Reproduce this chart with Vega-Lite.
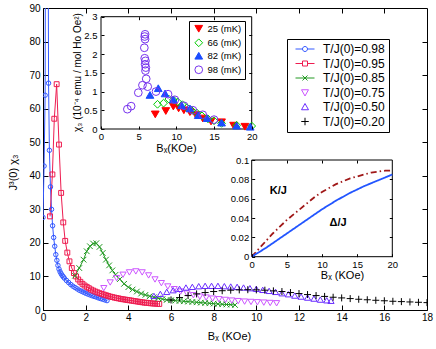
{
 "$schema": "https://vega.github.io/schema/vega-lite/v6.json",
 "width": 384, "height": 302,
 "autosize": "none",
 "padding": {"left": 43, "top": 8, "right": 9, "bottom": 39},
 "config": {
  "font": "Liberation Sans",
  "view": {"stroke": "black", "strokeWidth": 1},
  "axis": {"grid": false, "domain": false, "tickColor": "black", "labelColor": "black", "labelFontSize": 10, "titleFontSize": 11, "titleFontWeight": "normal", "titleColor": "black", "labelFlush": false, "labelOverlap": false, "tickSize": -5, "titleBaseline": "middle", "titleAlign": "center"},
  "legend": {"labelColor": "black", "labelFont": "Liberation Sans"}
 },
 "datasets": {
  "main": [
   {"s":"T/J(0)=0.98","B":0,"c":27.6},{"s":"T/J(0)=0.98","B":0.05,"c":42.9},{"s":"T/J(0)=0.98","B":0.1,"c":64},{"s":"T/J(0)=0.98","B":0.17,"c":300},{"s":"T/J(0)=0.98","B":0.26,"c":67.6},{"s":"T/J(0)=0.98","B":0.3,"c":47.6},{"s":"T/J(0)=0.98","B":0.35,"c":36.7},{"s":"T/J(0)=0.98","B":0.4,"c":30},{"s":"T/J(0)=0.98","B":0.45,"c":25.1},{"s":"T/J(0)=0.98","B":0.5,"c":21.6},{"s":"T/J(0)=0.98","B":0.55,"c":19},{"s":"T/J(0)=0.98","B":0.6,"c":16.5},{"s":"T/J(0)=0.98","B":0.65,"c":14.8},{"s":"T/J(0)=0.98","B":0.7,"c":13.3},{"s":"T/J(0)=0.98","B":0.75,"c":12.2},{"s":"T/J(0)=0.98","B":0.8,"c":11.4},{"s":"T/J(0)=0.98","B":0.85,"c":10.8},{"s":"T/J(0)=0.98","B":0.9,"c":10.3},{"s":"T/J(0)=0.98","B":0.95,"c":9.9},{"s":"T/J(0)=0.98","B":1.0,"c":9.5},{"s":"T/J(0)=0.98","B":1.1,"c":8.8},{"s":"T/J(0)=0.98","B":1.2,"c":8.2},{"s":"T/J(0)=0.98","B":1.3,"c":7.6},{"s":"T/J(0)=0.98","B":1.4,"c":7.1},{"s":"T/J(0)=0.98","B":1.5,"c":6.7},{"s":"T/J(0)=0.98","B":1.6,"c":6.3},{"s":"T/J(0)=0.98","B":1.7,"c":5.9},{"s":"T/J(0)=0.98","B":1.8,"c":5.6},{"s":"T/J(0)=0.98","B":1.9,"c":5.3},{"s":"T/J(0)=0.98","B":2.0,"c":5.0},{"s":"T/J(0)=0.98","B":2.1,"c":4.75},{"s":"T/J(0)=0.98","B":2.2,"c":4.5},{"s":"T/J(0)=0.98","B":2.3,"c":4.25},{"s":"T/J(0)=0.98","B":2.4,"c":4.05},{"s":"T/J(0)=0.98","B":2.5,"c":3.85},{"s":"T/J(0)=0.98","B":2.6,"c":3.6},{"s":"T/J(0)=0.98","B":2.7,"c":3.4},{"s":"T/J(0)=0.98","B":2.8,"c":3.2},{"s":"T/J(0)=0.98","B":2.9,"c":3.0},{"s":"T/J(0)=0.98","B":3.0,"c":2.8},
   {"s":"T/J(0)=0.95","B":0.33,"c":27.9},{"s":"T/J(0)=0.95","B":0.44,"c":40.4},{"s":"T/J(0)=0.95","B":0.53,"c":57},{"s":"T/J(0)=0.95","B":0.64,"c":67.3},{"s":"T/J(0)=0.95","B":0.75,"c":49.3},{"s":"T/J(0)=0.95","B":0.85,"c":34.9},{"s":"T/J(0)=0.95","B":0.95,"c":26.1},{"s":"T/J(0)=0.95","B":1.04,"c":20.6},{"s":"T/J(0)=0.95","B":1.14,"c":17.1},{"s":"T/J(0)=0.95","B":1.24,"c":14.5},{"s":"T/J(0)=0.95","B":1.35,"c":12.5},{"s":"T/J(0)=0.95","B":1.45,"c":11},{"s":"T/J(0)=0.95","B":1.55,"c":10},{"s":"T/J(0)=0.95","B":1.65,"c":9.1},{"s":"T/J(0)=0.95","B":1.75,"c":8.4},{"s":"T/J(0)=0.95","B":1.85,"c":7.8},{"s":"T/J(0)=0.95","B":1.95,"c":7.3},{"s":"T/J(0)=0.95","B":2.05,"c":6.9},{"s":"T/J(0)=0.95","B":2.15,"c":6.5},{"s":"T/J(0)=0.95","B":2.25,"c":6.1},{"s":"T/J(0)=0.95","B":2.35,"c":5.8},{"s":"T/J(0)=0.95","B":2.45,"c":5.5},{"s":"T/J(0)=0.95","B":2.55,"c":5.25},{"s":"T/J(0)=0.95","B":2.65,"c":5.0},{"s":"T/J(0)=0.95","B":2.75,"c":4.8},{"s":"T/J(0)=0.95","B":2.85,"c":4.6},{"s":"T/J(0)=0.95","B":2.95,"c":4.4},{"s":"T/J(0)=0.95","B":3.05,"c":4.2},{"s":"T/J(0)=0.95","B":3.15,"c":4.0},{"s":"T/J(0)=0.95","B":3.25,"c":3.85},{"s":"T/J(0)=0.95","B":3.35,"c":3.7},{"s":"T/J(0)=0.95","B":3.45,"c":3.55},{"s":"T/J(0)=0.95","B":3.55,"c":3.45},{"s":"T/J(0)=0.95","B":3.65,"c":3.3},{"s":"T/J(0)=0.95","B":3.75,"c":3.2},{"s":"T/J(0)=0.95","B":3.85,"c":3.1},{"s":"T/J(0)=0.95","B":3.95,"c":3.0},{"s":"T/J(0)=0.95","B":4.05,"c":2.9},{"s":"T/J(0)=0.95","B":4.15,"c":2.8},{"s":"T/J(0)=0.95","B":4.25,"c":2.7},{"s":"T/J(0)=0.95","B":4.35,"c":2.6},{"s":"T/J(0)=0.95","B":4.45,"c":2.5},{"s":"T/J(0)=0.95","B":4.55,"c":2.4},{"s":"T/J(0)=0.95","B":4.65,"c":2.3},{"s":"T/J(0)=0.95","B":4.75,"c":2.2},{"s":"T/J(0)=0.95","B":4.85,"c":2.15},{"s":"T/J(0)=0.95","B":4.95,"c":2.1},{"s":"T/J(0)=0.95","B":5.05,"c":2.0},{"s":"T/J(0)=0.95","B":5.15,"c":1.95},{"s":"T/J(0)=0.95","B":5.25,"c":1.9},{"s":"T/J(0)=0.95","B":5.35,"c":1.85},{"s":"T/J(0)=0.95","B":5.45,"c":1.8},
   {"s":"T/J(0)=0.85","B":1.5,"c":10.2},{"s":"T/J(0)=0.85","B":1.7,"c":12.5},{"s":"T/J(0)=0.85","B":1.9,"c":15},{"s":"T/J(0)=0.85","B":2.05,"c":17.5},{"s":"T/J(0)=0.85","B":2.2,"c":19},{"s":"T/J(0)=0.85","B":2.35,"c":19.8},{"s":"T/J(0)=0.85","B":2.5,"c":19.9},{"s":"T/J(0)=0.85","B":2.65,"c":18.8},{"s":"T/J(0)=0.85","B":2.8,"c":17},{"s":"T/J(0)=0.85","B":2.95,"c":15},{"s":"T/J(0)=0.85","B":3.1,"c":13.3},{"s":"T/J(0)=0.85","B":3.25,"c":11.8},{"s":"T/J(0)=0.85","B":3.4,"c":10.5},{"s":"T/J(0)=0.85","B":3.6,"c":9.2},{"s":"T/J(0)=0.85","B":3.8,"c":7.8},{"s":"T/J(0)=0.85","B":4.0,"c":6.8},{"s":"T/J(0)=0.85","B":4.2,"c":6.1},{"s":"T/J(0)=0.85","B":4.4,"c":5.5},{"s":"T/J(0)=0.85","B":4.6,"c":4.9},{"s":"T/J(0)=0.85","B":4.8,"c":4.5},{"s":"T/J(0)=0.85","B":5.0,"c":4.1},{"s":"T/J(0)=0.85","B":5.2,"c":3.8},{"s":"T/J(0)=0.85","B":5.4,"c":3.5},{"s":"T/J(0)=0.85","B":5.6,"c":3.25},{"s":"T/J(0)=0.85","B":5.8,"c":3.0},{"s":"T/J(0)=0.85","B":6.0,"c":2.9},{"s":"T/J(0)=0.85","B":6.2,"c":2.8},{"s":"T/J(0)=0.85","B":6.4,"c":2.7},{"s":"T/J(0)=0.85","B":6.6,"c":2.6},{"s":"T/J(0)=0.85","B":6.8,"c":2.5},{"s":"T/J(0)=0.85","B":7.0,"c":2.4},{"s":"T/J(0)=0.85","B":7.2,"c":2.3},{"s":"T/J(0)=0.85","B":7.4,"c":2.2},{"s":"T/J(0)=0.85","B":7.6,"c":2.1},{"s":"T/J(0)=0.85","B":7.8,"c":2.0},{"s":"T/J(0)=0.85","B":8.0,"c":1.9},{"s":"T/J(0)=0.85","B":8.2,"c":1.8},{"s":"T/J(0)=0.85","B":8.4,"c":1.7},{"s":"T/J(0)=0.85","B":8.6,"c":1.65},{"s":"T/J(0)=0.85","B":8.8,"c":1.6},{"s":"T/J(0)=0.85","B":9.0,"c":1.5},
   {"s":"T/J(0)=0.75","B":2.85,"c":6.5},{"s":"T/J(0)=0.75","B":3.15,"c":8.2},{"s":"T/J(0)=0.75","B":3.45,"c":9.5},{"s":"T/J(0)=0.75","B":3.75,"c":10.5},{"s":"T/J(0)=0.75","B":4.05,"c":11.2},{"s":"T/J(0)=0.75","B":4.35,"c":11.5},{"s":"T/J(0)=0.75","B":4.65,"c":11.2},{"s":"T/J(0)=0.75","B":4.95,"c":10.3},{"s":"T/J(0)=0.75","B":5.25,"c":9.1},{"s":"T/J(0)=0.75","B":5.55,"c":8.0},{"s":"T/J(0)=0.75","B":5.85,"c":7.0},{"s":"T/J(0)=0.75","B":6.15,"c":6.2},{"s":"T/J(0)=0.75","B":6.45,"c":5.5},{"s":"T/J(0)=0.75","B":6.75,"c":4.9},{"s":"T/J(0)=0.75","B":7.05,"c":4.4},{"s":"T/J(0)=0.75","B":7.35,"c":4.0},{"s":"T/J(0)=0.75","B":7.65,"c":3.7},{"s":"T/J(0)=0.75","B":7.95,"c":3.4},{"s":"T/J(0)=0.75","B":8.25,"c":3.2},{"s":"T/J(0)=0.75","B":8.55,"c":3.0},{"s":"T/J(0)=0.75","B":8.85,"c":2.8},{"s":"T/J(0)=0.75","B":9.15,"c":2.65},{"s":"T/J(0)=0.75","B":9.45,"c":2.5},{"s":"T/J(0)=0.75","B":9.75,"c":2.4},{"s":"T/J(0)=0.75","B":10.05,"c":2.3},{"s":"T/J(0)=0.75","B":10.35,"c":2.2},{"s":"T/J(0)=0.75","B":10.65,"c":2.1},{"s":"T/J(0)=0.75","B":10.95,"c":2.0},
   {"s":"T/J(0)=0.50","B":5.2,"c":4.2},{"s":"T/J(0)=0.50","B":5.5,"c":4.8},{"s":"T/J(0)=0.50","B":5.8,"c":5.4},{"s":"T/J(0)=0.50","B":6.1,"c":5.9},{"s":"T/J(0)=0.50","B":6.4,"c":6.3},{"s":"T/J(0)=0.50","B":6.7,"c":6.7},{"s":"T/J(0)=0.50","B":7.0,"c":6.9},{"s":"T/J(0)=0.50","B":7.3,"c":7.1},{"s":"T/J(0)=0.50","B":7.6,"c":7.2},{"s":"T/J(0)=0.50","B":7.9,"c":7.2},{"s":"T/J(0)=0.50","B":8.2,"c":7.2},{"s":"T/J(0)=0.50","B":8.5,"c":7.1},{"s":"T/J(0)=0.50","B":8.8,"c":7.0},{"s":"T/J(0)=0.50","B":9.1,"c":6.9},{"s":"T/J(0)=0.50","B":9.4,"c":6.7},{"s":"T/J(0)=0.50","B":9.7,"c":6.5},{"s":"T/J(0)=0.50","B":10.0,"c":6.3},{"s":"T/J(0)=0.50","B":10.3,"c":6.0},{"s":"T/J(0)=0.50","B":10.6,"c":5.7},{"s":"T/J(0)=0.50","B":10.9,"c":5.4},{"s":"T/J(0)=0.50","B":11.2,"c":5.0},{"s":"T/J(0)=0.50","B":11.5,"c":4.7},{"s":"T/J(0)=0.50","B":11.8,"c":4.3},{"s":"T/J(0)=0.50","B":12.1,"c":4.0},{"s":"T/J(0)=0.50","B":12.4,"c":3.7},{"s":"T/J(0)=0.50","B":12.7,"c":3.4},{"s":"T/J(0)=0.50","B":13.0,"c":3.1},{"s":"T/J(0)=0.50","B":13.3,"c":2.9},{"s":"T/J(0)=0.50","B":13.5,"c":2.75},
   {"s":"T/J(0)=0.20","B":6.0,"c":3.0},{"s":"T/J(0)=0.20","B":6.4,"c":3.7},{"s":"T/J(0)=0.20","B":6.8,"c":4.3},{"s":"T/J(0)=0.20","B":7.2,"c":4.8},{"s":"T/J(0)=0.20","B":7.6,"c":5.2},{"s":"T/J(0)=0.20","B":8.0,"c":5.5},{"s":"T/J(0)=0.20","B":8.4,"c":5.75},{"s":"T/J(0)=0.20","B":8.8,"c":5.9},{"s":"T/J(0)=0.20","B":9.2,"c":6.0},{"s":"T/J(0)=0.20","B":9.6,"c":6.05},{"s":"T/J(0)=0.20","B":10.0,"c":6.0},{"s":"T/J(0)=0.20","B":10.4,"c":5.9},{"s":"T/J(0)=0.20","B":10.8,"c":5.7},{"s":"T/J(0)=0.20","B":11.2,"c":5.5},{"s":"T/J(0)=0.20","B":11.6,"c":5.2},{"s":"T/J(0)=0.20","B":12.0,"c":4.9},{"s":"T/J(0)=0.20","B":12.4,"c":4.6},{"s":"T/J(0)=0.20","B":12.8,"c":4.3},{"s":"T/J(0)=0.20","B":13.2,"c":4.05},{"s":"T/J(0)=0.20","B":13.6,"c":3.8},{"s":"T/J(0)=0.20","B":14.0,"c":3.6},{"s":"T/J(0)=0.20","B":14.4,"c":3.4},{"s":"T/J(0)=0.20","B":14.8,"c":3.2},{"s":"T/J(0)=0.20","B":15.2,"c":3.05},{"s":"T/J(0)=0.20","B":15.6,"c":2.9},{"s":"T/J(0)=0.20","B":16.0,"c":2.75},{"s":"T/J(0)=0.20","B":16.4,"c":2.6},{"s":"T/J(0)=0.20","B":16.8,"c":2.5},{"s":"T/J(0)=0.20","B":17.2,"c":2.4},{"s":"T/J(0)=0.20","B":17.6,"c":2.3},{"s":"T/J(0)=0.20","B":18.0,"c":2.2}
  ],
  "inset1": [
   {"t":"25 (mK)","B":7.2,"v":0.39},{"t":"25 (mK)","B":8.6,"v":0.48},{"t":"25 (mK)","B":9.6,"v":0.6},{"t":"25 (mK)","B":10.3,"v":0.55},{"t":"25 (mK)","B":11.0,"v":0.5},{"t":"25 (mK)","B":11.8,"v":0.45},{"t":"25 (mK)","B":12.6,"v":0.37},{"t":"25 (mK)","B":13.5,"v":0.28},{"t":"25 (mK)","B":14.6,"v":0.2},{"t":"25 (mK)","B":16.0,"v":0.18},{"t":"25 (mK)","B":17.6,"v":0.09},{"t":"25 (mK)","B":19.1,"v":0.06},
   {"t":"66 (mK)","B":7.5,"v":0.66},{"t":"66 (mK)","B":8.3,"v":0.69},{"t":"66 (mK)","B":9.0,"v":0.8},{"t":"66 (mK)","B":9.6,"v":0.78},{"t":"66 (mK)","B":10.2,"v":0.72},{"t":"66 (mK)","B":10.8,"v":0.65},{"t":"66 (mK)","B":11.4,"v":0.57},{"t":"66 (mK)","B":12.0,"v":0.5},{"t":"66 (mK)","B":12.7,"v":0.43},{"t":"66 (mK)","B":13.4,"v":0.35},{"t":"66 (mK)","B":14.2,"v":0.27},{"t":"66 (mK)","B":15.0,"v":0.22},{"t":"66 (mK)","B":16.0,"v":0.15},{"t":"66 (mK)","B":18.0,"v":0.1},{"t":"66 (mK)","B":20.0,"v":0.08},
   {"t":"82 (mK)","B":6.5,"v":0.91},{"t":"82 (mK)","B":7.6,"v":1.09},{"t":"82 (mK)","B":8.5,"v":0.95},{"t":"82 (mK)","B":9.6,"v":0.79},{"t":"82 (mK)","B":10.7,"v":0.64},{"t":"82 (mK)","B":11.8,"v":0.55},{"t":"82 (mK)","B":12.9,"v":0.37},{"t":"82 (mK)","B":14.1,"v":0.29},{"t":"82 (mK)","B":16.0,"v":0.17},{"t":"82 (mK)","B":18.0,"v":0.09},{"t":"82 (mK)","B":19.8,"v":0.06},
   {"t":"98 (mK)","B":3.5,"v":0.53},{"t":"98 (mK)","B":4.0,"v":0.61},{"t":"98 (mK)","B":4.95,"v":0.97},{"t":"98 (mK)","B":5.5,"v":1.17},{"t":"98 (mK)","B":5.85,"v":2.53},{"t":"98 (mK)","B":5.8,"v":2.47},{"t":"98 (mK)","B":5.85,"v":2.4},{"t":"98 (mK)","B":5.75,"v":2.17},{"t":"98 (mK)","B":5.8,"v":1.89},{"t":"98 (mK)","B":5.9,"v":1.82},{"t":"98 (mK)","B":5.85,"v":1.73},{"t":"98 (mK)","B":5.95,"v":1.64},{"t":"98 (mK)","B":5.9,"v":1.56},{"t":"98 (mK)","B":6.0,"v":1.34},{"t":"98 (mK)","B":6.2,"v":1.13},{"t":"98 (mK)","B":7.3,"v":1.0},{"t":"98 (mK)","B":8.9,"v":0.93},{"t":"98 (mK)","B":9.8,"v":0.78},{"t":"98 (mK)","B":11.0,"v":0.62},{"t":"98 (mK)","B":12.2,"v":0.5},{"t":"98 (mK)","B":13.5,"v":0.38},{"t":"98 (mK)","B":15.0,"v":0.25}
  ],
  "inset2": [
   {"q":"K/J","B":0,"v":0},{"q":"K/J","B":1,"v":0.008},{"q":"K/J","B":2,"v":0.016},{"q":"K/J","B":3,"v":0.024},{"q":"K/J","B":4,"v":0.031},{"q":"K/J","B":5,"v":0.038},{"q":"K/J","B":6,"v":0.044},{"q":"K/J","B":7,"v":0.05},{"q":"K/J","B":8,"v":0.056},{"q":"K/J","B":9,"v":0.062},{"q":"K/J","B":10,"v":0.067},{"q":"K/J","B":11,"v":0.071},{"q":"K/J","B":12,"v":0.075},{"q":"K/J","B":13,"v":0.078},{"q":"K/J","B":14,"v":0.081},{"q":"K/J","B":15,"v":0.083},{"q":"K/J","B":16,"v":0.085},{"q":"K/J","B":17,"v":0.087},{"q":"K/J","B":18,"v":0.088},{"q":"K/J","B":19,"v":0.089},{"q":"K/J","B":20,"v":0.089},
   {"q":"Δ/J","B":0,"v":0},{"q":"Δ/J","B":2,"v":0.009},{"q":"Δ/J","B":4,"v":0.019},{"q":"Δ/J","B":6,"v":0.029},{"q":"Δ/J","B":8,"v":0.039},{"q":"Δ/J","B":10,"v":0.049},{"q":"Δ/J","B":12,"v":0.058},{"q":"Δ/J","B":14,"v":0.066},{"q":"Δ/J","B":16,"v":0.073},{"q":"Δ/J","B":18,"v":0.079},{"q":"Δ/J","B":20,"v":0.085}
  ],
  "labels2": [{"B":3.8,"v":0.068,"txt":"K/J"},{"B":12.3,"v":0.0347,"txt":"Δ/J"}],
  "frame1": [{"x0":0,"x1":20,"y0":0,"y1":3}],
  "frame2": [{"x0":0,"x1":20,"y0":0,"y1":0.1}],
  "ghost": [{"a":0,"b":0}]
 },
 "layer": [
  {
   "data": {"name": "main"},
   "encoding": {
    "x": {"field": "B", "type": "quantitative", "scale": {"domain": [0, 18], "nice": false, "zero": false}, "axis": {"values": [0,2,4,6,8,10,12,14,16,18], "labelPadding": 7, "title": "Bₓ (KOe)", "titleX": 186, "titleY": 26}},
    "y": {"field": "c", "type": "quantitative", "scale": {"domain": [0, 90], "nice": false}, "axis": {"values": [0,10,20,30,40,50,60,70,80,90], "labelPadding": 8, "title": "J³(0) χ₃", "titleX": -30, "titleY": 164}}
   },
   "layer": [
    {"transform": [{"filter": {"field": "s", "oneOf": ["T/J(0)=0.98", "T/J(0)=0.95", "T/J(0)=0.85"]}}],
     "mark": {"type": "line", "strokeWidth": 1, "clip": true},
     "encoding": {"color": {"field": "s", "type": "nominal", "scale": {"domain": ["T/J(0)=0.98","T/J(0)=0.95","T/J(0)=0.85","T/J(0)=0.75","T/J(0)=0.50","T/J(0)=0.20"], "range": ["#3358ff","#ee1c50","#229922","#cc55ff","#6a2cff","#000000"]}, "legend": null}}},
    {"mark": {"type": "point", "filled": false, "strokeWidth": 1, "clip": true, "opacity": 1},
     "encoding": {
      "color": {"field": "s", "type": "nominal", "scale": {"domain": ["T/J(0)=0.98","T/J(0)=0.95","T/J(0)=0.85","T/J(0)=0.75","T/J(0)=0.50","T/J(0)=0.20"], "range": ["#3358ff","#ee1c50","#229922","#cc55ff","#6a2cff","#000000"]}, "legend": null},
      "shape": {"field": "s", "type": "nominal", "scale": {"domain": ["T/J(0)=0.98","T/J(0)=0.95","T/J(0)=0.85","T/J(0)=0.75","T/J(0)=0.50","T/J(0)=0.20"], "range": ["circle","square","M-1,-1L1,1M1,-1L-1,1","triangle-down","triangle-up","M-1,0L1,0M0,-1L0,1"]}, "legend": null},
      "size": {"field": "s", "type": "nominal", "scale": {"type": "ordinal", "domain": ["T/J(0)=0.98","T/J(0)=0.95","T/J(0)=0.85","T/J(0)=0.75","T/J(0)=0.50","T/J(0)=0.20"], "range": [20, 24, 32, 38, 38, 49]}, "legend": null}
     }}
   ]
  },
  {
   "data": {"name": "main"},
   "mark": {"type": "point", "filled": false, "strokeWidth": 1, "clip": true, "opacity": 1, "size": 0},
   "encoding": {
    "x": {"field": "B", "type": "quantitative", "scale": {"domain": [0, 18], "nice": false, "zero": false}, "axis": null},
    "y": {"field": "c", "type": "quantitative", "scale": {"domain": [0, 90], "nice": false}, "axis": null},
    "color": {"field": "s", "type": "nominal", "scale": {"domain": ["T/J(0)=0.98","T/J(0)=0.95","T/J(0)=0.85","T/J(0)=0.75","T/J(0)=0.50","T/J(0)=0.20"], "range": ["#3358ff","#ee1c50","#229922","#cc55ff","#6a2cff","#000000"]},
     "legend": {"orient": "none", "legendX": 244, "legendY": 31, "title": null, "labelFontSize": 12, "symbolSize": 100, "symbolStrokeWidth": 1, "symbolFillColor": "transparent", "symbolOffset": 8, "labelOffset": 12, "padding": 4, "rowPadding": 2.5, "strokeColor": "black", "fillColor": "white"}},
    "shape": {"field": "s", "type": "nominal", "scale": {"domain": ["T/J(0)=0.98","T/J(0)=0.95","T/J(0)=0.85","T/J(0)=0.75","T/J(0)=0.50","T/J(0)=0.20"], "range": ["M-1.9,0L-0.5,0M0.5,0L1.9,0M-0.5,0A0.5,0.5,0,1,0,0.5,0A0.5,0.5,0,1,0,-0.5,0", "M-1.9,0L-0.5,0M0.5,0L1.9,0M-0.5,-0.5L0.5,-0.5L0.5,0.5L-0.5,0.5Z", "M-1.9,0L1.9,0M-0.5,-0.5L0.5,0.5M0.5,-0.5L-0.5,0.5", "M-0.7,-0.55L0.7,-0.55L0,0.7Z", "M-0.7,0.55L0.7,0.55L0,-0.7Z", "M-0.75,0L0.75,0M0,-0.75L0,0.75"]},
     "legend": {"orient": "none", "legendX": 244, "legendY": 31, "title": null, "labelFontSize": 12, "symbolSize": 100, "symbolStrokeWidth": 1, "symbolFillColor": "transparent", "symbolOffset": 8, "labelOffset": 12, "padding": 4, "rowPadding": 2.5, "strokeColor": "black", "fillColor": "white"}}
   }
  },
  {
   "data": {"name": "ghost"},
   "mark": {"type": "point", "opacity": 0},
   "encoding": {
    "x": {"field": "a", "type": "quantitative", "scale": {"domain": [0, 18], "nice": false, "zero": false}, "axis": {"orient": "top", "values": [2,4,6,8,10,12,14,16], "labels": false, "title": null}},
    "y": {"field": "b", "type": "quantitative", "scale": {"domain": [0, 90], "nice": false}, "axis": {"orient": "right", "values": [10,20,30,40,50,60,70,80], "labels": false, "title": null}}
   }
  },
  {
   "layer": [
    {"data": {"name": "frame1"}, "mark": {"type": "rect", "fill": "white", "stroke": "black", "strokeWidth": 1},
     "encoding": {
      "x": {"field": "x0", "type": "quantitative", "scale": {"domain": [0, 20], "range": [58, 208.7], "nice": false, "zero": false}, "axis": {"offset": -181, "zindex": 1, "values": [0,5,10,15,20], "tickSize": -3, "labelPadding": 5, "labelFontSize": 9.5, "title": "Bₓ(KOe)", "titleFontSize": 11, "titleX": 133, "titleY": 19}},
      "x2": {"field": "x1"},
      "y": {"field": "y0", "type": "quantitative", "scale": {"domain": [0, 3], "range": [121, 8.7], "nice": false}, "axis": {"offset": -58, "zindex": 1, "values": [0,0.5,1,1.5,2,2.5,3], "labelExpr": "datum.value + ''", "tickSize": -3, "labelPadding": 7, "labelFontSize": 9.5, "title": "χ₃ (10⁻⁴ emu / mol Ho Oe²)", "titleFontSize": 10, "titleX": -24, "titleY": 64}},
      "y2": {"field": "y1"}
     }},
    {"data": {"name": "inset1"}, "mark": {"type": "point", "strokeWidth": 1, "opacity": 1, "size": 60},
     "encoding": {
      "x": {"field": "B", "type": "quantitative", "scale": {"domain": [0, 20], "range": [58, 208.7], "nice": false, "zero": false}},
      "y": {"field": "v", "type": "quantitative", "scale": {"domain": [0, 3], "range": [121, 8.7], "nice": false}},
      "fill": {"field": "t", "type": "nominal", "scale": {"domain": ["25 (mK)","66 (mK)","82 (mK)","98 (mK)"], "range": ["#ff0000","transparent","#1a4cff","transparent"]},
       "legend": {"orient": "none", "legendX": 146, "legendY": 13, "title": null, "labelFontSize": 9.5, "symbolSize": 60, "symbolStrokeWidth": 1, "padding": 3, "rowPadding": 1, "labelOffset": 4, "symbolOffset": 2, "strokeColor": "black", "fillColor": "white"}},
      "stroke": {"field": "t", "type": "nominal", "scale": {"domain": ["25 (mK)","66 (mK)","82 (mK)","98 (mK)"], "range": ["#ff0000","#00cc00","#1a4cff","#7733ee"]},
       "legend": {"orient": "none", "legendX": 146, "legendY": 13, "title": null, "labelFontSize": 9.5, "symbolSize": 60, "symbolStrokeWidth": 1, "padding": 3, "rowPadding": 1, "labelOffset": 4, "symbolOffset": 2, "strokeColor": "black", "fillColor": "white"}},
      "shape": {"field": "t", "type": "nominal", "scale": {"domain": ["25 (mK)","66 (mK)","82 (mK)","98 (mK)"], "range": ["triangle-down","diamond","triangle-up","circle"]},
       "legend": {"orient": "none", "legendX": 146, "legendY": 13, "title": null, "labelFontSize": 9.5, "symbolSize": 60, "symbolStrokeWidth": 1, "padding": 3, "rowPadding": 1, "labelOffset": 4, "symbolOffset": 2, "strokeColor": "black", "fillColor": "white"}}
     }}
   ]
  },
  {
   "data": {"name": "ghost"},
   "mark": {"type": "point", "opacity": 0},
   "encoding": {
    "x": {"field": "a", "type": "quantitative", "scale": {"domain": [0, 20], "range": [58, 208.7], "nice": false, "zero": false}, "axis": {"orient": "top", "offset": -8.7, "zindex": 1, "values": [5,10,15], "tickSize": -3, "labels": false, "title": null}},
    "y": {"field": "b", "type": "quantitative", "scale": {"domain": [0, 3], "range": [121, 8.7], "nice": false}, "axis": {"orient": "right", "offset": -175.3, "zindex": 1, "values": [0.5,1,1.5,2,2.5], "tickSize": -3, "labels": false, "title": null}}
   }
  },
  {
   "layer": [
    {"data": {"name": "frame2"}, "mark": {"type": "rect", "fill": "white", "stroke": "black", "strokeWidth": 1},
     "encoding": {
      "x": {"field": "x0", "type": "quantitative", "scale": {"domain": [0, 20], "range": [208.7, 349.3], "nice": false, "zero": false}, "axis": {"offset": -53.3, "zindex": 1, "values": [0,5,10,15,20], "tickSize": -3, "labelPadding": 6, "labelFontSize": 9.5, "title": "Bₓ (KOe)", "titleFontSize": 11, "titleX": 299, "titleY": 19}},
      "x2": {"field": "x1"},
      "y": {"field": "y0", "type": "quantitative", "scale": {"domain": [0, 0.1], "range": [248.7, 152], "nice": false}, "axis": {"offset": -208.7, "zindex": 1, "values": [0,0.02,0.04,0.06,0.08,0.1], "labelExpr": "datum.value + ''", "tickSize": -3, "labelPadding": 6, "labelFontSize": 9.5, "title": null}},
      "y2": {"field": "y1"}
     }},
    {"data": {"name": "inset2"}, "mark": {"type": "line", "strokeWidth": 1.8},
     "encoding": {
      "x": {"field": "B", "type": "quantitative", "scale": {"domain": [0, 20], "range": [208.7, 349.3], "nice": false, "zero": false}},
      "y": {"field": "v", "type": "quantitative", "scale": {"domain": [0, 0.1], "range": [248.7, 152], "nice": false}},
      "color": {"field": "q", "type": "nominal", "scale": {"domain": ["K/J","Δ/J"], "range": ["#a01818","#2255ff"]}, "legend": null},
      "strokeDash": {"field": "q", "type": "nominal", "scale": {"domain": ["K/J","Δ/J"], "range": [[6,3,1.5,3],[1,0]]}, "legend": null}
     }},
    {"data": {"name": "labels2"}, "mark": {"type": "text", "fontWeight": "bold", "fontSize": 11, "color": "black"},
     "encoding": {
      "x": {"field": "B", "type": "quantitative", "scale": {"domain": [0, 20], "range": [208.7, 349.3], "nice": false, "zero": false}},
      "y": {"field": "v", "type": "quantitative", "scale": {"domain": [0, 0.1], "range": [248.7, 152], "nice": false}},
      "text": {"field": "txt"}
     }}
   ]
  },
  {
   "data": {"name": "ghost"},
   "mark": {"type": "point", "opacity": 0},
   "encoding": {
    "x": {"field": "a", "type": "quantitative", "scale": {"domain": [0, 20], "range": [208.7, 349.3], "nice": false, "zero": false}, "axis": {"orient": "top", "offset": -152, "zindex": 1, "values": [5,10,15], "tickSize": -3, "labels": false, "title": null}},
    "y": {"field": "b", "type": "quantitative", "scale": {"domain": [0, 0.1], "range": [248.7, 152], "nice": false}, "axis": {"orient": "right", "offset": -34.7, "zindex": 1, "values": [0.02,0.04,0.06,0.08], "tickSize": -3, "labels": false, "title": null}}
   }
  }
 ],
 "resolve": {
  "scale": {"x": "independent", "y": "independent", "color": "independent", "shape": "independent", "size": "independent", "fill": "independent", "stroke": "independent", "strokeDash": "independent"},
  "axis": {"x": "independent", "y": "independent"}
 }
}
